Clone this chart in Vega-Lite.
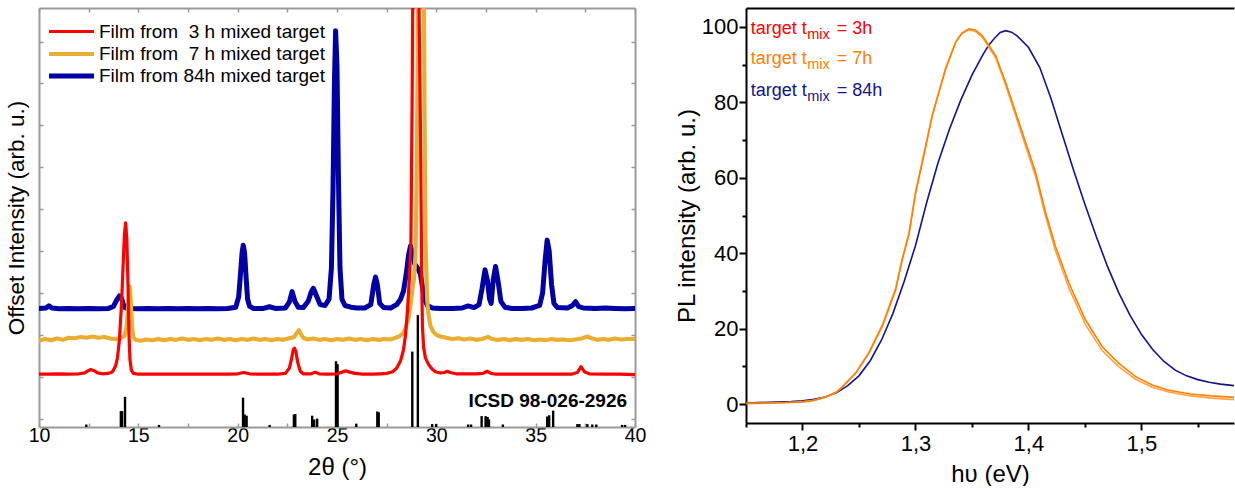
{
  "$schema": "https://vega.github.io/schema/vega-lite/v6.json",
  "background": "white",
  "padding": {"left": 5, "top": 7, "right": 0, "bottom": 0},
  "spacing": 29,
  "config": {
    "font": "Liberation Sans",
    "view": {"stroke": null},
    "axis": {"grid": false, "labelColor": "black", "titleColor": "black", "titleFontWeight": "normal", "labelFont": "Liberation Sans", "titleFont": "Liberation Sans"}
  },
  "datasets": {
    "sticks": [
      {"tt": 12.38, "h": -0.14}, {"tt": 14.12, "h": 0.18}, {"tt": 14.18, "h": 0.18}, {"tt": 14.33, "h": 0.52},
      {"tt": 16.04, "h": -0.15}, {"tt": 20.27, "h": 0.5}, {"tt": 20.35, "h": 0.1}, {"tt": 20.45, "h": 0.07},
      {"tt": 21.61, "h": -0.15}, {"tt": 22.83, "h": 0.1}, {"tt": 22.9, "h": 0.11}, {"tt": 23.75, "h": 0.07},
      {"tt": 23.85, "h": -0.02}, {"tt": 24.0, "h": 0.0}, {"tt": 24.95, "h": 1.37}, {"tt": 25.03, "h": 1.3},
      {"tt": 25.97, "h": -0.12}, {"tt": 27.03, "h": 0.17}, {"tt": 27.1, "h": 0.15}, {"tt": 28.79, "h": 1.6},
      {"tt": 29.07, "h": 2.47}, {"tt": 29.79, "h": -0.13}, {"tt": 29.99, "h": -0.13}, {"tt": 31.6, "h": -0.14},
      {"tt": 31.75, "h": -0.14}, {"tt": 32.28, "h": 0.06}, {"tt": 32.48, "h": 0.06}, {"tt": 32.58, "h": 0.04},
      {"tt": 32.65, "h": -0.02}, {"tt": 33.35, "h": -0.14}, {"tt": 35.58, "h": 0.05}, {"tt": 35.68, "h": 0.08},
      {"tt": 35.88, "h": 0.19}, {"tt": 37.1, "h": -0.13}, {"tt": 37.2, "h": -0.13}, {"tt": 37.6, "h": -0.13},
      {"tt": 37.85, "h": -0.14}, {"tt": 38.05, "h": -0.14}, {"tt": 39.35, "h": -0.15}, {"tt": 39.5, "h": -0.15}
    ],
    "xrd": [
      {"s": "84h", "tt": 10.0, "v": 2.63}, {"s": "84h", "tt": 10.35, "v": 2.64}, {"s": "84h", "tt": 10.5, "v": 2.69}, {"s": "84h", "tt": 10.65, "v": 2.64},
      {"s": "84h", "tt": 11.0, "v": 2.62}, {"s": "84h", "tt": 11.5, "v": 2.63}, {"s": "84h", "tt": 12.0, "v": 2.62}, {"s": "84h", "tt": 12.5, "v": 2.63},
      {"s": "84h", "tt": 13.0, "v": 2.62}, {"s": "84h", "tt": 13.5, "v": 2.63}, {"s": "84h", "tt": 13.75, "v": 2.68}, {"s": "84h", "tt": 13.9, "v": 2.82},
      {"s": "84h", "tt": 14.05, "v": 2.93}, {"s": "84h", "tt": 14.15, "v": 2.88}, {"s": "84h", "tt": 14.25, "v": 2.72}, {"s": "84h", "tt": 14.35, "v": 2.64},
      {"s": "84h", "tt": 14.6, "v": 2.63}, {"s": "84h", "tt": 15.0, "v": 2.62}, {"s": "84h", "tt": 15.5, "v": 2.63}, {"s": "84h", "tt": 16.0, "v": 2.62},
      {"s": "84h", "tt": 16.5, "v": 2.63}, {"s": "84h", "tt": 17.0, "v": 2.62}, {"s": "84h", "tt": 17.5, "v": 2.63}, {"s": "84h", "tt": 18.0, "v": 2.62},
      {"s": "84h", "tt": 18.5, "v": 2.63}, {"s": "84h", "tt": 19.0, "v": 2.62}, {"s": "84h", "tt": 19.5, "v": 2.63}, {"s": "84h", "tt": 19.9, "v": 2.66},
      {"s": "84h", "tt": 20.05, "v": 2.9}, {"s": "84h", "tt": 20.15, "v": 3.5}, {"s": "84h", "tt": 20.22, "v": 3.95}, {"s": "84h", "tt": 20.28, "v": 4.14},
      {"s": "84h", "tt": 20.35, "v": 3.95}, {"s": "84h", "tt": 20.42, "v": 3.4}, {"s": "84h", "tt": 20.5, "v": 2.85}, {"s": "84h", "tt": 20.6, "v": 2.68},
      {"s": "84h", "tt": 20.8, "v": 2.63}, {"s": "84h", "tt": 21.3, "v": 2.63}, {"s": "84h", "tt": 21.6, "v": 2.67}, {"s": "84h", "tt": 21.9, "v": 2.63},
      {"s": "84h", "tt": 22.4, "v": 2.64}, {"s": "84h", "tt": 22.6, "v": 2.78}, {"s": "84h", "tt": 22.74, "v": 3.03}, {"s": "84h", "tt": 22.88, "v": 2.8},
      {"s": "84h", "tt": 23.05, "v": 2.66}, {"s": "84h", "tt": 23.3, "v": 2.65}, {"s": "84h", "tt": 23.55, "v": 2.8}, {"s": "84h", "tt": 23.7, "v": 3.02},
      {"s": "84h", "tt": 23.81, "v": 3.11}, {"s": "84h", "tt": 23.95, "v": 2.95}, {"s": "84h", "tt": 24.15, "v": 2.72}, {"s": "84h", "tt": 24.4, "v": 2.7},
      {"s": "84h", "tt": 24.6, "v": 2.85}, {"s": "84h", "tt": 24.72, "v": 3.6}, {"s": "84h", "tt": 24.8, "v": 5.5}, {"s": "84h", "tt": 24.87, "v": 8.0},
      {"s": "84h", "tt": 24.93, "v": 9.26}, {"s": "84h", "tt": 25.0, "v": 8.4}, {"s": "84h", "tt": 25.07, "v": 5.8}, {"s": "84h", "tt": 25.15, "v": 3.6},
      {"s": "84h", "tt": 25.25, "v": 2.85}, {"s": "84h", "tt": 25.4, "v": 2.7}, {"s": "84h", "tt": 25.7, "v": 2.66}, {"s": "84h", "tt": 26.0, "v": 2.64},
      {"s": "84h", "tt": 26.4, "v": 2.64}, {"s": "84h", "tt": 26.7, "v": 2.72}, {"s": "84h", "tt": 26.85, "v": 3.2}, {"s": "84h", "tt": 26.94, "v": 3.38},
      {"s": "84h", "tt": 27.03, "v": 3.2}, {"s": "84h", "tt": 27.15, "v": 2.75}, {"s": "84h", "tt": 27.35, "v": 2.65}, {"s": "84h", "tt": 27.7, "v": 2.64},
      {"s": "84h", "tt": 28.0, "v": 2.72}, {"s": "84h", "tt": 28.2, "v": 2.85}, {"s": "84h", "tt": 28.35, "v": 3.05}, {"s": "84h", "tt": 28.5, "v": 3.5},
      {"s": "84h", "tt": 28.6, "v": 3.9}, {"s": "84h", "tt": 28.7, "v": 4.12}, {"s": "84h", "tt": 28.8, "v": 3.95}, {"s": "84h", "tt": 28.9, "v": 3.7},
      {"s": "84h", "tt": 29.05, "v": 3.6}, {"s": "84h", "tt": 29.2, "v": 3.45}, {"s": "84h", "tt": 29.3, "v": 3.15}, {"s": "84h", "tt": 29.4, "v": 2.85},
      {"s": "84h", "tt": 29.55, "v": 2.7}, {"s": "84h", "tt": 29.8, "v": 2.64}, {"s": "84h", "tt": 30.2, "v": 2.63}, {"s": "84h", "tt": 30.8, "v": 2.63},
      {"s": "84h", "tt": 31.3, "v": 2.64}, {"s": "84h", "tt": 31.6, "v": 2.69}, {"s": "84h", "tt": 31.9, "v": 2.65}, {"s": "84h", "tt": 32.15, "v": 2.72},
      {"s": "84h", "tt": 32.3, "v": 3.1}, {"s": "84h", "tt": 32.45, "v": 3.55}, {"s": "84h", "tt": 32.57, "v": 3.3}, {"s": "84h", "tt": 32.68, "v": 2.85},
      {"s": "84h", "tt": 32.76, "v": 2.75}, {"s": "84h", "tt": 32.86, "v": 3.3}, {"s": "84h", "tt": 32.98, "v": 3.63}, {"s": "84h", "tt": 33.1, "v": 3.3},
      {"s": "84h", "tt": 33.25, "v": 2.8}, {"s": "84h", "tt": 33.45, "v": 2.66}, {"s": "84h", "tt": 33.8, "v": 2.63}, {"s": "84h", "tt": 34.3, "v": 2.63},
      {"s": "84h", "tt": 34.8, "v": 2.64}, {"s": "84h", "tt": 35.2, "v": 2.7}, {"s": "84h", "tt": 35.35, "v": 3.0}, {"s": "84h", "tt": 35.48, "v": 3.8},
      {"s": "84h", "tt": 35.58, "v": 4.26}, {"s": "84h", "tt": 35.68, "v": 4.0}, {"s": "84h", "tt": 35.8, "v": 3.2}, {"s": "84h", "tt": 35.92, "v": 2.75},
      {"s": "84h", "tt": 36.1, "v": 2.65}, {"s": "84h", "tt": 36.6, "v": 2.64}, {"s": "84h", "tt": 36.85, "v": 2.7}, {"s": "84h", "tt": 37.01, "v": 2.79},
      {"s": "84h", "tt": 37.15, "v": 2.68}, {"s": "84h", "tt": 37.4, "v": 2.64}, {"s": "84h", "tt": 38.0, "v": 2.63}, {"s": "84h", "tt": 38.5, "v": 2.64},
      {"s": "84h", "tt": 39.0, "v": 2.63}, {"s": "84h", "tt": 39.5, "v": 2.62}, {"s": "84h", "tt": 40.0, "v": 2.63},

      {"s": "7h", "tt": 10.0, "v": 1.86}, {"s": "7h", "tt": 10.3, "v": 1.9}, {"s": "7h", "tt": 10.6, "v": 1.87}, {"s": "7h", "tt": 10.9, "v": 1.91},
      {"s": "7h", "tt": 11.2, "v": 1.88}, {"s": "7h", "tt": 11.5, "v": 1.93}, {"s": "7h", "tt": 11.8, "v": 1.92}, {"s": "7h", "tt": 12.1, "v": 1.95},
      {"s": "7h", "tt": 12.4, "v": 1.93}, {"s": "7h", "tt": 12.7, "v": 1.96}, {"s": "7h", "tt": 13.0, "v": 1.93}, {"s": "7h", "tt": 13.3, "v": 1.95},
      {"s": "7h", "tt": 13.6, "v": 1.91}, {"s": "7h", "tt": 13.9, "v": 1.9}, {"s": "7h", "tt": 14.1, "v": 1.92}, {"s": "7h", "tt": 14.3, "v": 1.97},
      {"s": "7h", "tt": 14.4, "v": 2.15}, {"s": "7h", "tt": 14.47, "v": 2.6}, {"s": "7h", "tt": 14.53, "v": 3.05}, {"s": "7h", "tt": 14.57, "v": 3.15},
      {"s": "7h", "tt": 14.62, "v": 2.8}, {"s": "7h", "tt": 14.68, "v": 2.2}, {"s": "7h", "tt": 14.75, "v": 1.95}, {"s": "7h", "tt": 14.85, "v": 1.88},
      {"s": "7h", "tt": 15.1, "v": 1.86}, {"s": "7h", "tt": 15.4, "v": 1.89}, {"s": "7h", "tt": 15.7, "v": 1.87}, {"s": "7h", "tt": 16.0, "v": 1.9},
      {"s": "7h", "tt": 16.3, "v": 1.87}, {"s": "7h", "tt": 16.6, "v": 1.9}, {"s": "7h", "tt": 16.9, "v": 1.88}, {"s": "7h", "tt": 17.2, "v": 1.91},
      {"s": "7h", "tt": 17.5, "v": 1.88}, {"s": "7h", "tt": 17.8, "v": 1.9}, {"s": "7h", "tt": 18.1, "v": 1.87}, {"s": "7h", "tt": 18.4, "v": 1.9},
      {"s": "7h", "tt": 18.7, "v": 1.88}, {"s": "7h", "tt": 19.0, "v": 1.91}, {"s": "7h", "tt": 19.3, "v": 1.88}, {"s": "7h", "tt": 19.6, "v": 1.9},
      {"s": "7h", "tt": 19.9, "v": 1.87}, {"s": "7h", "tt": 20.2, "v": 1.9}, {"s": "7h", "tt": 20.5, "v": 1.88}, {"s": "7h", "tt": 20.8, "v": 1.91},
      {"s": "7h", "tt": 21.1, "v": 1.88}, {"s": "7h", "tt": 21.4, "v": 1.9}, {"s": "7h", "tt": 21.7, "v": 1.87}, {"s": "7h", "tt": 22.0, "v": 1.9},
      {"s": "7h", "tt": 22.3, "v": 1.88}, {"s": "7h", "tt": 22.6, "v": 1.92}, {"s": "7h", "tt": 22.85, "v": 1.95}, {"s": "7h", "tt": 22.98, "v": 2.05},
      {"s": "7h", "tt": 23.08, "v": 2.11}, {"s": "7h", "tt": 23.18, "v": 2.02}, {"s": "7h", "tt": 23.3, "v": 1.93}, {"s": "7h", "tt": 23.5, "v": 1.89},
      {"s": "7h", "tt": 23.8, "v": 1.91}, {"s": "7h", "tt": 24.1, "v": 1.88}, {"s": "7h", "tt": 24.4, "v": 1.9}, {"s": "7h", "tt": 24.7, "v": 1.87},
      {"s": "7h", "tt": 25.0, "v": 1.9}, {"s": "7h", "tt": 25.3, "v": 1.88}, {"s": "7h", "tt": 25.6, "v": 1.91}, {"s": "7h", "tt": 25.9, "v": 1.88},
      {"s": "7h", "tt": 26.2, "v": 1.9}, {"s": "7h", "tt": 26.5, "v": 1.87}, {"s": "7h", "tt": 26.8, "v": 1.9}, {"s": "7h", "tt": 27.1, "v": 1.88},
      {"s": "7h", "tt": 27.4, "v": 1.9}, {"s": "7h", "tt": 27.7, "v": 1.89}, {"s": "7h", "tt": 27.95, "v": 1.93}, {"s": "7h", "tt": 28.15, "v": 1.97},
      {"s": "7h", "tt": 28.3, "v": 2.02}, {"s": "7h", "tt": 28.45, "v": 2.15}, {"s": "7h", "tt": 28.6, "v": 2.4}, {"s": "7h", "tt": 28.7, "v": 2.7},
      {"s": "7h", "tt": 28.8, "v": 3.1}, {"s": "7h", "tt": 28.88, "v": 3.35}, {"s": "7h", "tt": 28.95, "v": 3.9}, {"s": "7h", "tt": 29.02, "v": 6.0},
      {"s": "7h", "tt": 29.08, "v": 10.0}, {"s": "7h", "tt": 29.15, "v": 14.0}, {"s": "7h", "tt": 29.25, "v": 15.5}, {"s": "7h", "tt": 29.35, "v": 13.0},
      {"s": "7h", "tt": 29.41, "v": 7.0}, {"s": "7h", "tt": 29.46, "v": 4.2}, {"s": "7h", "tt": 29.53, "v": 2.9}, {"s": "7h", "tt": 29.6, "v": 2.5},
      {"s": "7h", "tt": 29.7, "v": 2.22}, {"s": "7h", "tt": 29.85, "v": 2.07}, {"s": "7h", "tt": 30.0, "v": 2.0}, {"s": "7h", "tt": 30.2, "v": 1.96},
      {"s": "7h", "tt": 30.5, "v": 1.93}, {"s": "7h", "tt": 30.8, "v": 1.9}, {"s": "7h", "tt": 31.1, "v": 1.92}, {"s": "7h", "tt": 31.4, "v": 1.89},
      {"s": "7h", "tt": 31.7, "v": 1.91}, {"s": "7h", "tt": 32.0, "v": 1.88}, {"s": "7h", "tt": 32.3, "v": 1.9}, {"s": "7h", "tt": 32.6, "v": 1.95},
      {"s": "7h", "tt": 32.8, "v": 1.9}, {"s": "7h", "tt": 33.1, "v": 1.88}, {"s": "7h", "tt": 33.4, "v": 1.9}, {"s": "7h", "tt": 33.7, "v": 1.87},
      {"s": "7h", "tt": 34.0, "v": 1.9}, {"s": "7h", "tt": 34.3, "v": 1.88}, {"s": "7h", "tt": 34.6, "v": 1.9}, {"s": "7h", "tt": 34.9, "v": 1.87},
      {"s": "7h", "tt": 35.2, "v": 1.89}, {"s": "7h", "tt": 35.5, "v": 1.87}, {"s": "7h", "tt": 35.8, "v": 1.9}, {"s": "7h", "tt": 36.1, "v": 1.88},
      {"s": "7h", "tt": 36.4, "v": 1.89}, {"s": "7h", "tt": 36.7, "v": 1.87}, {"s": "7h", "tt": 37.0, "v": 1.89}, {"s": "7h", "tt": 37.3, "v": 1.91},
      {"s": "7h", "tt": 37.6, "v": 1.96}, {"s": "7h", "tt": 37.85, "v": 1.91}, {"s": "7h", "tt": 38.1, "v": 1.88}, {"s": "7h", "tt": 38.4, "v": 1.9},
      {"s": "7h", "tt": 38.7, "v": 1.88}, {"s": "7h", "tt": 39.0, "v": 1.91}, {"s": "7h", "tt": 39.3, "v": 1.89}, {"s": "7h", "tt": 39.6, "v": 1.9},
      {"s": "7h", "tt": 40.0, "v": 1.9},

      {"s": "3h", "tt": 10.0, "v": 1.06}, {"s": "3h", "tt": 10.5, "v": 1.06}, {"s": "3h", "tt": 11.0, "v": 1.07}, {"s": "3h", "tt": 11.5, "v": 1.06},
      {"s": "3h", "tt": 12.0, "v": 1.07}, {"s": "3h", "tt": 12.3, "v": 1.09}, {"s": "3h", "tt": 12.5, "v": 1.15}, {"s": "3h", "tt": 12.6, "v": 1.17},
      {"s": "3h", "tt": 12.75, "v": 1.15}, {"s": "3h", "tt": 12.95, "v": 1.09}, {"s": "3h", "tt": 13.2, "v": 1.07}, {"s": "3h", "tt": 13.5, "v": 1.08},
      {"s": "3h", "tt": 13.7, "v": 1.12}, {"s": "3h", "tt": 13.85, "v": 1.25}, {"s": "3h", "tt": 13.95, "v": 1.45}, {"s": "3h", "tt": 14.05, "v": 1.9},
      {"s": "3h", "tt": 14.15, "v": 2.7}, {"s": "3h", "tt": 14.22, "v": 3.5}, {"s": "3h", "tt": 14.3, "v": 4.4}, {"s": "3h", "tt": 14.36, "v": 4.67},
      {"s": "3h", "tt": 14.42, "v": 4.3}, {"s": "3h", "tt": 14.48, "v": 3.2}, {"s": "3h", "tt": 14.53, "v": 2.0}, {"s": "3h", "tt": 14.58, "v": 1.4},
      {"s": "3h", "tt": 14.65, "v": 1.15}, {"s": "3h", "tt": 14.75, "v": 1.08}, {"s": "3h", "tt": 15.0, "v": 1.06}, {"s": "3h", "tt": 15.5, "v": 1.06},
      {"s": "3h", "tt": 16.0, "v": 1.06}, {"s": "3h", "tt": 16.5, "v": 1.06}, {"s": "3h", "tt": 17.0, "v": 1.06}, {"s": "3h", "tt": 17.5, "v": 1.06},
      {"s": "3h", "tt": 18.0, "v": 1.06}, {"s": "3h", "tt": 18.5, "v": 1.06}, {"s": "3h", "tt": 19.0, "v": 1.06}, {"s": "3h", "tt": 19.5, "v": 1.06},
      {"s": "3h", "tt": 20.0, "v": 1.07}, {"s": "3h", "tt": 20.3, "v": 1.1}, {"s": "3h", "tt": 20.6, "v": 1.07}, {"s": "3h", "tt": 21.0, "v": 1.06},
      {"s": "3h", "tt": 21.5, "v": 1.06}, {"s": "3h", "tt": 22.0, "v": 1.06}, {"s": "3h", "tt": 22.4, "v": 1.08}, {"s": "3h", "tt": 22.6, "v": 1.2},
      {"s": "3h", "tt": 22.72, "v": 1.45}, {"s": "3h", "tt": 22.8, "v": 1.65}, {"s": "3h", "tt": 22.86, "v": 1.68}, {"s": "3h", "tt": 22.93, "v": 1.6},
      {"s": "3h", "tt": 23.02, "v": 1.35}, {"s": "3h", "tt": 23.15, "v": 1.13}, {"s": "3h", "tt": 23.3, "v": 1.07}, {"s": "3h", "tt": 23.7, "v": 1.07},
      {"s": "3h", "tt": 23.9, "v": 1.11}, {"s": "3h", "tt": 24.1, "v": 1.07}, {"s": "3h", "tt": 24.5, "v": 1.06}, {"s": "3h", "tt": 25.0, "v": 1.07},
      {"s": "3h", "tt": 25.25, "v": 1.11}, {"s": "3h", "tt": 25.45, "v": 1.14}, {"s": "3h", "tt": 25.65, "v": 1.11}, {"s": "3h", "tt": 25.9, "v": 1.08},
      {"s": "3h", "tt": 26.3, "v": 1.06}, {"s": "3h", "tt": 26.8, "v": 1.06}, {"s": "3h", "tt": 27.2, "v": 1.07}, {"s": "3h", "tt": 27.5, "v": 1.08},
      {"s": "3h", "tt": 27.8, "v": 1.12}, {"s": "3h", "tt": 28.0, "v": 1.2}, {"s": "3h", "tt": 28.2, "v": 1.38}, {"s": "3h", "tt": 28.35, "v": 1.65},
      {"s": "3h", "tt": 28.45, "v": 2.0}, {"s": "3h", "tt": 28.55, "v": 2.6}, {"s": "3h", "tt": 28.65, "v": 3.4}, {"s": "3h", "tt": 28.72, "v": 4.2},
      {"s": "3h", "tt": 28.78, "v": 7.5}, {"s": "3h", "tt": 28.84, "v": 12.0}, {"s": "3h", "tt": 28.95, "v": 14.0}, {"s": "3h", "tt": 29.05, "v": 13.0},
      {"s": "3h", "tt": 29.15, "v": 9.0}, {"s": "3h", "tt": 29.21, "v": 6.5}, {"s": "3h", "tt": 29.26, "v": 3.5}, {"s": "3h", "tt": 29.3, "v": 2.2},
      {"s": "3h", "tt": 29.36, "v": 1.7}, {"s": "3h", "tt": 29.45, "v": 1.45}, {"s": "3h", "tt": 29.6, "v": 1.3}, {"s": "3h", "tt": 29.75, "v": 1.2},
      {"s": "3h", "tt": 29.95, "v": 1.12}, {"s": "3h", "tt": 30.2, "v": 1.09}, {"s": "3h", "tt": 30.4, "v": 1.1}, {"s": "3h", "tt": 30.55, "v": 1.13},
      {"s": "3h", "tt": 30.7, "v": 1.1}, {"s": "3h", "tt": 31.0, "v": 1.07}, {"s": "3h", "tt": 31.5, "v": 1.07}, {"s": "3h", "tt": 32.0, "v": 1.07},
      {"s": "3h", "tt": 32.35, "v": 1.08}, {"s": "3h", "tt": 32.55, "v": 1.13}, {"s": "3h", "tt": 32.75, "v": 1.08}, {"s": "3h", "tt": 33.0, "v": 1.06},
      {"s": "3h", "tt": 34.0, "v": 1.06}, {"s": "3h", "tt": 35.0, "v": 1.06}, {"s": "3h", "tt": 36.0, "v": 1.06}, {"s": "3h", "tt": 36.8, "v": 1.06},
      {"s": "3h", "tt": 37.1, "v": 1.1}, {"s": "3h", "tt": 37.28, "v": 1.24}, {"s": "3h", "tt": 37.45, "v": 1.12}, {"s": "3h", "tt": 37.7, "v": 1.07},
      {"s": "3h", "tt": 38.5, "v": 1.06}, {"s": "3h", "tt": 39.2, "v": 1.06}, {"s": "3h", "tt": 40.0, "v": 1.05}
    ],
    "pl": [
      {"s": "84h", "e": 1.15, "i": 0.3}, {"s": "84h", "e": 1.17, "i": 0.5}, {"s": "84h", "e": 1.19, "i": 0.7}, {"s": "84h", "e": 1.2, "i": 0.9},
      {"s": "84h", "e": 1.21, "i": 1.3}, {"s": "84h", "e": 1.22, "i": 1.9}, {"s": "84h", "e": 1.23, "i": 3.0}, {"s": "84h", "e": 1.24, "i": 4.9},
      {"s": "84h", "e": 1.25, "i": 7.5}, {"s": "84h", "e": 1.26, "i": 11.5}, {"s": "84h", "e": 1.27, "i": 17.0}, {"s": "84h", "e": 1.28, "i": 24.0},
      {"s": "84h", "e": 1.29, "i": 32.5}, {"s": "84h", "e": 1.3, "i": 42.0}, {"s": "84h", "e": 1.31, "i": 53.5}, {"s": "84h", "e": 1.32, "i": 64.0},
      {"s": "84h", "e": 1.33, "i": 72.8}, {"s": "84h", "e": 1.34, "i": 80.5}, {"s": "84h", "e": 1.35, "i": 87.2}, {"s": "84h", "e": 1.36, "i": 92.8},
      {"s": "84h", "e": 1.365, "i": 95.2}, {"s": "84h", "e": 1.37, "i": 97.0}, {"s": "84h", "e": 1.375, "i": 98.5}, {"s": "84h", "e": 1.38, "i": 99.0},
      {"s": "84h", "e": 1.385, "i": 98.6}, {"s": "84h", "e": 1.39, "i": 97.6}, {"s": "84h", "e": 1.4, "i": 94.6}, {"s": "84h", "e": 1.41, "i": 89.3},
      {"s": "84h", "e": 1.42, "i": 81.0}, {"s": "84h", "e": 1.43, "i": 71.5}, {"s": "84h", "e": 1.44, "i": 62.0}, {"s": "84h", "e": 1.45, "i": 53.0},
      {"s": "84h", "e": 1.46, "i": 44.5}, {"s": "84h", "e": 1.47, "i": 36.5}, {"s": "84h", "e": 1.48, "i": 29.5}, {"s": "84h", "e": 1.49, "i": 23.5},
      {"s": "84h", "e": 1.5, "i": 18.5}, {"s": "84h", "e": 1.51, "i": 14.5}, {"s": "84h", "e": 1.52, "i": 11.3}, {"s": "84h", "e": 1.53, "i": 9.0},
      {"s": "84h", "e": 1.54, "i": 7.5}, {"s": "84h", "e": 1.55, "i": 6.5}, {"s": "84h", "e": 1.56, "i": 5.8}, {"s": "84h", "e": 1.57, "i": 5.3},
      {"s": "84h", "e": 1.582, "i": 4.9},

      {"s": "3h", "e": 1.15, "i": 0.15}, {"s": "3h", "e": 1.17, "i": 0.25}, {"s": "3h", "e": 1.19, "i": 0.45}, {"s": "3h", "e": 1.2, "i": 0.6},
      {"s": "3h", "e": 1.21, "i": 1.0}, {"s": "3h", "e": 1.2205, "i": 1.8}, {"s": "3h", "e": 1.23, "i": 3.1}, {"s": "3h", "e": 1.2352, "i": 4.5},
      {"s": "3h", "e": 1.2471, "i": 8.3}, {"s": "3h", "e": 1.2588, "i": 13.8}, {"s": "3h", "e": 1.2706, "i": 21.0}, {"s": "3h", "e": 1.2825, "i": 30.8},
      {"s": "3h", "e": 1.2883, "i": 38.5}, {"s": "3h", "e": 1.2943, "i": 45.5}, {"s": "3h", "e": 1.3002, "i": 56.5}, {"s": "3h", "e": 1.3075, "i": 66.5},
      {"s": "3h", "e": 1.3149, "i": 76.8}, {"s": "3h", "e": 1.3267, "i": 89.0}, {"s": "3h", "e": 1.3356, "i": 96.0}, {"s": "3h", "e": 1.341, "i": 98.2},
      {"s": "3h", "e": 1.3473, "i": 99.2}, {"s": "3h", "e": 1.353, "i": 98.8}, {"s": "3h", "e": 1.3591, "i": 97.3}, {"s": "3h", "e": 1.371, "i": 91.8},
      {"s": "3h", "e": 1.3798, "i": 84.6}, {"s": "3h", "e": 1.3916, "i": 73.8}, {"s": "3h", "e": 1.4064, "i": 60.3}, {"s": "3h", "e": 1.415, "i": 50.0},
      {"s": "3h", "e": 1.424, "i": 40.6}, {"s": "3h", "e": 1.4358, "i": 30.8}, {"s": "3h", "e": 1.4506, "i": 21.0}, {"s": "3h", "e": 1.4653, "i": 14.2},
      {"s": "3h", "e": 1.4801, "i": 9.9}, {"s": "3h", "e": 1.4949, "i": 6.6}, {"s": "3h", "e": 1.5096, "i": 4.5}, {"s": "3h", "e": 1.5243, "i": 3.2},
      {"s": "3h", "e": 1.5435, "i": 2.2}, {"s": "3h", "e": 1.562, "i": 1.6}, {"s": "3h", "e": 1.582, "i": 1.2},

      {"s": "7h", "e": 1.15, "i": 0.2}, {"s": "7h", "e": 1.17, "i": 0.3}, {"s": "7h", "e": 1.19, "i": 0.5}, {"s": "7h", "e": 1.2, "i": 0.6},
      {"s": "7h", "e": 1.21, "i": 1.0}, {"s": "7h", "e": 1.2205, "i": 1.9}, {"s": "7h", "e": 1.23, "i": 3.2}, {"s": "7h", "e": 1.2352, "i": 4.6},
      {"s": "7h", "e": 1.2471, "i": 8.2}, {"s": "7h", "e": 1.2588, "i": 13.5}, {"s": "7h", "e": 1.2706, "i": 20.6}, {"s": "7h", "e": 1.2825, "i": 30.3},
      {"s": "7h", "e": 1.2883, "i": 38.3}, {"s": "7h", "e": 1.2943, "i": 45.0}, {"s": "7h", "e": 1.3002, "i": 56.0}, {"s": "7h", "e": 1.3075, "i": 66.0},
      {"s": "7h", "e": 1.3149, "i": 76.4}, {"s": "7h", "e": 1.3267, "i": 88.8}, {"s": "7h", "e": 1.3356, "i": 95.9}, {"s": "7h", "e": 1.341, "i": 98.3},
      {"s": "7h", "e": 1.3473, "i": 99.5}, {"s": "7h", "e": 1.353, "i": 99.2}, {"s": "7h", "e": 1.3591, "i": 97.7}, {"s": "7h", "e": 1.371, "i": 92.4},
      {"s": "7h", "e": 1.3798, "i": 85.3}, {"s": "7h", "e": 1.3916, "i": 74.7}, {"s": "7h", "e": 1.4064, "i": 61.4}, {"s": "7h", "e": 1.415, "i": 51.0},
      {"s": "7h", "e": 1.424, "i": 41.8}, {"s": "7h", "e": 1.4358, "i": 32.1}, {"s": "7h", "e": 1.4506, "i": 22.3}, {"s": "7h", "e": 1.4653, "i": 15.2},
      {"s": "7h", "e": 1.4801, "i": 10.8}, {"s": "7h", "e": 1.4949, "i": 7.3}, {"s": "7h", "e": 1.5096, "i": 5.1}, {"s": "7h", "e": 1.5243, "i": 3.7},
      {"s": "7h", "e": 1.5435, "i": 2.7}, {"s": "7h", "e": 1.562, "i": 2.2}, {"s": "7h", "e": 1.582, "i": 1.8}
    ],
    "plKey": [
      {"s": "3h", "lx": 1.1542, "ly": 98.2, "main": "target t", "sub": "mix", "tail": "= 3h"},
      {"s": "7h", "lx": 1.1542, "ly": 90.1, "main": "target t", "sub": "mix", "tail": "= 7h"},
      {"s": "84h", "lx": 1.1542, "ly": 81.7, "main": "target t", "sub": "mix", "tail": "= 84h"}
    ],
    "icsd": [
      {"tt": 39.6, "v": 0.28, "label": "ICSD 98-026-2926"}
    ]
  },
  "hconcat": [
    {
      "width": 596,
      "height": 419,
      "resolve": {"axis": {"x": "independent", "y": "independent"}},
      "layer": [
        {
          "data": {"name": "sticks"},
          "mark": {"type": "rule", "color": "black", "strokeWidth": 2.4},
          "encoding": {
            "x": {
              "field": "tt", "type": "quantitative",
              "scale": {"domain": [10, 40], "nice": false, "zero": false},
              "axis": {
                "orient": "bottom",
                "values": [10, 12.5, 15, 17.5, 20, 22.5, 25, 27.5, 30, 32.5, 35, 37.5, 40],
                "labelExpr": "datum.value % 5 === 0 ? format(datum.value, 'd') : ''",
                "labelFlush": false, "labelOverlap": false,
                "tickSize": -4, "tickColor": "#9a9a9a", "tickWidth": 1.5,
                "domainColor": "#9a9a9a", "domainWidth": 2,
                "labelFontSize": 19.5, "labelPadding": 3,
                "title": "2θ (°)", "titleFontSize": 24, "titlePadding": 11
              }
            },
            "y": {
              "field": "h", "type": "quantitative",
              "scale": {"domain": [-0.2, 9.8], "nice": false, "zero": false},
              "axis": {
                "orient": "left",
                "values": [0, 1, 2, 3, 4, 5, 6, 7, 8, 9],
                "labels": false,
                "tickSize": -4, "tickColor": "#9a9a9a", "tickWidth": 1.5,
                "domainColor": "#9a9a9a", "domainWidth": 2,
                "title": "Offset Intensity (arb. u.)", "titleFontSize": 22.5, "titlePadding": 10
              }
            },
            "y2": {"datum": -0.2}
          }
        },
        {
          "data": {"name": "xrd"},
          "mark": {"type": "line", "clip": true, "strokeJoin": "round", "strokeCap": "round"},
          "encoding": {
            "x": {"field": "tt", "type": "quantitative", "axis": null},
            "y": {"field": "v", "type": "quantitative", "axis": null},
            "color": {
              "field": "s", "type": "nominal",
              "scale": {"domain": ["3h", "7h", "84h"], "range": ["#FF0000", "#E9AE2F", "#0000A6"]},
              "legend": {
                "orient": "none", "legendX": 22.5, "legendY": 14, "title": null, "padding": 0,
                "symbolType": "M-3,0H3", "symbolSize": 225, "symbolStrokeWidth": 5,
                "labelFontSize": 19, "labelLimit": 400, "labelOffset": 17.5, "rowPadding": 2,
                "labelColor": "black", "labelFont": "Liberation Sans",
                "labelExpr": "datum.label == '3h' ? 'Film from \u00a03 h mixed target' : datum.label == '7h' ? 'Film from \u00a07 h mixed target' : 'Film from 84h mixed target'"
              }
            },
            "strokeWidth": {
              "field": "s", "type": "nominal",
              "scale": {"domain": ["3h", "7h", "84h"], "range": [3.2, 5, 3.6]},
              "legend": null
            }
          }
        },
        {
          "data": {"name": "icsd"},
          "mark": {"type": "text", "align": "right", "baseline": "alphabetic", "fontWeight": "bold", "fontSize": 19, "color": "black", "font": "Liberation Sans"},
          "encoding": {
            "x": {"field": "tt", "type": "quantitative", "axis": null},
            "y": {"field": "v", "type": "quantitative", "axis": null},
            "text": {"field": "label"}
          }
        },
        {
          "data": {"name": "sticks"},
          "mark": {"type": "point", "opacity": 0},
          "encoding": {
            "x": {
              "field": "tt", "type": "quantitative",
              "axis": {
                "orient": "top", "values": [10, 12.5, 15, 17.5, 20, 22.5, 25, 27.5, 30, 32.5, 35, 37.5, 40],
                "labels": false, "tickSize": -4, "tickColor": "#9a9a9a", "tickWidth": 1.5,
                "domainColor": "#9a9a9a", "domainWidth": 2, "title": null
              }
            },
            "y": {
              "field": "h", "type": "quantitative",
              "axis": {
                "orient": "right", "values": [0, 1, 2, 3, 4, 5, 6, 7, 8, 9],
                "labels": false, "tickSize": -4, "tickColor": "#9a9a9a", "tickWidth": 1.5,
                "domainColor": "#9a9a9a", "domainWidth": 2, "title": null
              }
            }
          }
        }
      ]
    },
    {
      "width": 488,
      "height": 415,
      "resolve": {"axis": {"x": "independent"}},
      "layer": [
        {
          "data": {"name": "pl"},
          "mark": {"type": "line", "clip": true, "strokeWidth": 1.6},
          "encoding": {
            "x": {
              "field": "e", "type": "quantitative",
              "scale": {"domain": [1.15, 1.582], "nice": false, "zero": false},
              "axis": {
                "orient": "bottom",
                "values": [1.15, 1.2, 1.25, 1.3, 1.35, 1.4, 1.45, 1.5, 1.55],
                "labelExpr": "abs(datum.value * 10 - round(datum.value * 10)) < 0.001 ? replace(format(datum.value, '.1f'), '.', ',') : ''",
                "labelFlush": false, "labelOverlap": false,
                "tickSize": {"condition": {"test": "abs(datum.value * 10 - round(datum.value * 10)) < 0.001", "value": 7}, "value": 4},
                "tickColor": "black", "tickWidth": 2,
                "domainColor": "black", "domainWidth": 2,
                "labelFontSize": 22, "labelPadding": 3,
                "title": "hυ (eV)", "titleFontSize": 24, "titlePadding": 8
              }
            },
            "y": {
              "field": "i", "type": "quantitative",
              "scale": {"domain": [-5, 105], "nice": false, "zero": false},
              "axis": {
                "orient": "left",
                "values": [0, 10, 20, 30, 40, 50, 60, 70, 80, 90, 100],
                "labelExpr": "datum.value % 20 === 0 ? datum.label : ''",
                "labelOverlap": false,
                "tickSize": {"condition": {"test": "datum.value % 20 === 0", "value": 7}, "value": 4},
                "tickColor": "black", "tickWidth": 2,
                "domainColor": "black", "domainWidth": 2,
                "labelFontSize": 22, "labelPadding": 1,
                "title": "PL intensity (arb. u.)", "titleFontSize": 24, "titlePadding": 2
              }
            },
            "stroke": {
              "field": "s", "type": "nominal",
              "scale": {"domain": ["84h", "3h", "7h"], "range": ["#14148C", "#FFA347", "#FF8000"]},
              "legend": null
            }
          }
        },
        {
          "data": {"name": "plKey"},
          "mark": {"type": "text", "align": "left", "baseline": "alphabetic", "fontSize": 18, "font": "Liberation Sans"},
          "encoding": {
            "x": {"field": "lx", "type": "quantitative", "axis": null},
            "y": {"field": "ly", "type": "quantitative"},
            "text": {"field": "main"},
            "fill": {"field": "s", "type": "nominal", "scale": {"domain": ["3h", "7h", "84h"], "range": ["#FF0000", "#FF8000", "#14148C"]}, "legend": null}
          }
        },
        {
          "data": {"name": "plKey"},
          "mark": {"type": "text", "align": "left", "baseline": "alphabetic", "fontSize": 14.5, "dx": 56.5, "dy": 5, "font": "Liberation Sans"},
          "encoding": {
            "x": {"field": "lx", "type": "quantitative", "axis": null},
            "y": {"field": "ly", "type": "quantitative"},
            "text": {"field": "sub"},
            "fill": {"field": "s", "type": "nominal", "legend": null}
          }
        },
        {
          "data": {"name": "plKey"},
          "mark": {"type": "text", "align": "left", "baseline": "alphabetic", "fontSize": 18, "dx": 86, "font": "Liberation Sans"},
          "encoding": {
            "x": {"field": "lx", "type": "quantitative", "axis": null},
            "y": {"field": "ly", "type": "quantitative"},
            "text": {"field": "tail"},
            "fill": {"field": "s", "type": "nominal", "legend": null}
          }
        },
        {
          "data": {"name": "pl"},
          "mark": {"type": "point", "opacity": 0},
          "encoding": {
            "x": {
              "field": "e", "type": "quantitative",
              "axis": {"orient": "top", "labels": false, "ticks": false, "domainColor": "black", "domainWidth": 2, "title": null}
            }
          }
        }
      ]
    }
  ]
}
